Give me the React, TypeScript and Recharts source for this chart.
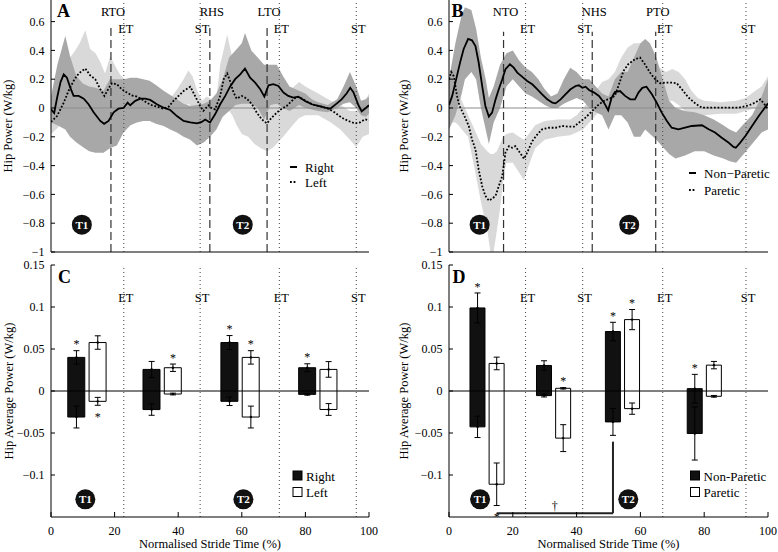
import React from 'react';
import {
  ComposedChart,
  Line,
  Area,
  Bar,
  Cell,
  Scatter,
  ErrorBar,
  XAxis,
  YAxis,
  ReferenceLine,
  ReferenceDot,
} from 'recharts';

// ── data: hip power traces (% stride, W/kg) ─────────────────
const rightA: [number, number][] = [
  [0, -0.01], [1, -0.035], [2, 0.08], [3, 0.18], [4, 0.234], [5, 0.21], [6.1, 0.14], [7.1, 0.084],
  [8.7, 0.084], [10.3, 0.065], [11.8, 0.026], [13.4, -0.03], [15.5, -0.09], [16.7, -0.11], [18.1, -0.09],
  [19.7, -0.03], [21.2, -0.005], [22.8, 0.0], [24.1, 0.037], [24.9, 0.019], [26.5, 0.05], [28.1, 0.065],
  [29.6, 0.065], [31.2, 0.056], [33.3, 0.026], [35.4, 0.002], [37.5, -0.014], [39.6, -0.056], [41.7, -0.09],
  [43.8, -0.1], [45.9, -0.107], [47.4, -0.097], [48.5, -0.08], [50, -0.1], [51.6, -0.044], [53.2, 0.026],
  [54.8, 0.084], [56.3, 0.148], [57.9, 0.2], [59.5, 0.234], [61, 0.274], [62.6, 0.21], [64.2, 0.176],
  [65.8, 0.13], [67.1, 0.079], [68.4, 0.158], [69.9, 0.165], [71.5, 0.153], [73.1, 0.107], [74.6, 0.084],
  [76.2, 0.072], [77.8, 0.079], [79.9, 0.049], [82, 0.026], [84.1, 0.014], [86.2, 0.002], [87.8, -0.005],
  [89.9, 0.032], [91.4, 0.06], [93, 0.102], [94.1, 0.14], [95.1, 0.11], [96.7, 0.019], [97.7, -0.023],
  [99, 0.0], [100, 0.019],
];
const leftA: [number, number][] = [
  [0, -0.097], [1.9, -0.056], [4, 0.037], [5.5, 0.118], [7.1, 0.188], [8.7, 0.24], [10.8, 0.274],
  [12.3, 0.227], [13.9, 0.2], [15.5, 0.13], [16.8, 0.084], [18.1, 0.135], [19.2, 0.172], [20.7, 0.165],
  [22.3, 0.13], [23.9, 0.107], [25.4, 0.088], [27, 0.079], [28.6, 0.06], [30.1, 0.037], [31.7, 0.019],
  [33.3, 0.009], [35.4, -0.005], [37, 0.009], [38.5, 0.049], [40.1, 0.084], [41.7, 0.118], [43.8, 0.148],
  [45.3, 0.084], [46.9, 0.014], [47.9, -0.02], [49.5, 0.019], [50.4, 0.0], [51.6, -0.01], [53.2, 0.084],
  [54.3, 0.2], [55.4, 0.24], [56.3, 0.188], [57.4, 0.107], [58.4, 0.065], [60, 0.084], [61.6, 0.065],
  [63.2, 0.026], [64.7, -0.032], [66.3, -0.079], [67.9, -0.107], [69.4, -0.067], [71, -0.032],
  [72.6, -0.005], [74.1, 0.014], [75.7, 0.049], [77.3, 0.079], [78.9, 0.065], [81, 0.037], [83.1, 0.019],
  [85.2, 0.009], [87.2, -0.005], [89.3, -0.032], [91.4, -0.067], [93.5, -0.09], [95.6, -0.107],
  [97.2, -0.1], [98.7, -0.079], [100, -0.084],
];
// [x, low, high] of the SD bands
const rightBandA: [number, number, number][] = [
  [0, -0.1, 0.08], [2, -0.12, 0.3], [4.5, -0.15, 0.5], [6, -0.2, 0.36], [8, -0.24, 0.22], [10, -0.27, 0.17],
  [12, -0.3, 0.15], [14, -0.31, 0.14], [16.5, -0.31, 0.12], [18.5, -0.28, 0.2], [20.7, -0.26, 0.2],
  [22.8, -0.17, 0.2], [25, -0.12, 0.21], [27, -0.1, 0.21], [29, -0.09, 0.2], [31, -0.09, 0.19],
  [33, -0.11, 0.16], [35.4, -0.125, 0.12], [37.5, -0.15, 0.09], [39.6, -0.17, 0.06], [41.7, -0.2, 0.03],
  [43.8, -0.22, 0.014], [45.9, -0.26, 0.02], [48, -0.24, 0.03], [50, -0.2, 0.05], [52, -0.15, 0.1],
  [54, -0.06, 0.2], [56, -0.02, 0.35], [58, 0.02, 0.4], [60, 0.03, 0.45], [61, 0.03, 0.52], [63, 0.03, 0.4],
  [65, 0.0, 0.35], [67, -0.08, 0.3], [69, 0.02, 0.3], [71, 0.03, 0.3], [73, 0.0, 0.22], [75, -0.02, 0.15],
  [78, 0.02, 0.12], [80, 0.0, 0.1], [82, -0.01, 0.06], [84, -0.02, 0.04], [87, -0.03, 0.02], [90, 0.0, 0.06],
  [92, 0.03, 0.15], [94, 0.04, 0.25], [96, 0.0, 0.15], [97.5, -0.05, 0.05], [99, -0.06, 0.06], [100, -0.04, 0.08],
];
const leftBandA: [number, number, number][] = [
  [0, -0.18, 0.06], [2, -0.14, 0.1], [4, -0.08, 0.25], [6, -0.02, 0.35], [7.6, 0.0, 0.4], [9, 0.02, 0.45],
  [10.8, 0.05, 0.54], [12.3, 0.04, 0.41], [14, 0.0, 0.38], [15.5, -0.03, 0.32], [17, -0.05, 0.24],
  [18.6, 0.0, 0.36], [20, 0.02, 0.3], [21.8, 0.02, 0.23], [24, 0.0, 0.18], [26, -0.01, 0.15], [28, -0.02, 0.12],
  [30, -0.03, 0.1], [32, -0.05, 0.06], [34, -0.06, 0.05], [36, -0.06, 0.04], [38, -0.04, 0.08], [40, -0.02, 0.14],
  [41.7, 0.0, 0.2], [43.2, 0.03, 0.26], [44.5, 0.0, 0.22], [46, -0.06, 0.12], [47.5, -0.1, 0.05],
  [49, -0.08, 0.08], [50.4, -0.1, 0.06], [52, -0.12, 0.06], [53.2, -0.05, 0.3], [55.4, 0.0, 0.51],
  [57, -0.05, 0.35], [58.4, -0.12, 0.3], [60, -0.18, 0.3], [62, -0.2, 0.28], [64, -0.25, 0.2], [66, -0.28, 0.1],
  [68, -0.3, 0.06], [70, -0.27, 0.08], [73, -0.2, 0.1], [76, -0.12, 0.14], [78, -0.07, 0.18], [80, -0.05, 0.15],
  [84, -0.05, 0.1], [88, -0.1, 0.05], [91, -0.15, 0.02], [94, -0.22, -0.02], [96, -0.27, -0.02],
  [98, -0.2, 0.02], [100, -0.18, 0.1],
];

const nonParB: [number, number][] = [
  [0, 0.02], [1, 0.084], [2, 0.176], [3.6, 0.327], [4.6, 0.41], [6, 0.48], [7.2, 0.47], [8.3, 0.43],
  [9.3, 0.316], [10.4, 0.153], [11.4, 0.014], [12.5, -0.06], [13.5, -0.032], [14.6, 0.06], [15.6, 0.13],
  [16.7, 0.2], [17.7, 0.27], [19.1, 0.304], [20.3, 0.28], [21.4, 0.246], [22.9, 0.218], [24.5, 0.188],
  [26.1, 0.165], [27.7, 0.13], [29.2, 0.095], [30.8, 0.06], [32.4, 0.037], [33.4, 0.032], [35, 0.06],
  [36.5, 0.095], [38.1, 0.13], [39.7, 0.153], [40.7, 0.158], [41.8, 0.14], [42.8, 0.148], [43.9, 0.125],
  [45.5, 0.107], [47, 0.084], [48.6, 0.037], [49.9, -0.016], [51, 0.072], [52, 0.11], [53.6, 0.118],
  [55.2, 0.084], [56.8, 0.06], [58.3, 0.06], [59.4, 0.107], [60.6, 0.14], [61.9, 0.148], [63.6, 0.095],
  [65.1, 0.037], [66.7, -0.032], [68.3, -0.09], [69.8, -0.137], [71.9, -0.148], [74, -0.137],
  [76.1, -0.125], [79.3, -0.12], [81.4, -0.148], [83.4, -0.17], [85.5, -0.206], [87.6, -0.24],
  [89.2, -0.27], [89.9, -0.276], [91.3, -0.24], [92.9, -0.195], [95, -0.125], [97.1, -0.056],
  [98.6, -0.01], [100, 0.032],
];
const parB: [number, number][] = [
  [0, 0.2], [0.7, 0.25], [1.5, 0.22], [2.5, 0.084], [3.3, 0.014], [4.6, -0.044], [6.2, -0.125],
  [7.2, -0.218], [8.3, -0.288], [9.3, -0.427], [10.4, -0.543], [11.4, -0.61], [12.5, -0.643], [13.5, -0.63],
  [14.6, -0.61], [15.6, -0.543], [16.7, -0.473], [17.7, -0.31], [18.8, -0.265], [19.8, -0.276],
  [20.8, -0.265], [21.9, -0.3], [23.5, -0.353], [24.5, -0.31], [26.1, -0.23], [27.7, -0.183], [29.2, -0.148],
  [31.3, -0.137], [33.4, -0.137], [35.5, -0.125], [37.6, -0.13], [39.2, -0.13], [40.7, -0.102],
  [42.8, -0.067], [44.9, -0.021], [47, 0.026], [49.1, 0.056], [50, 0.06], [52, 0.084], [53.1, 0.153],
  [54.7, 0.258], [56.2, 0.304], [58.3, 0.339], [59.9, 0.35], [61.4, 0.304], [63, 0.246], [64.6, 0.2],
  [66.2, 0.172], [67.7, 0.176], [69.8, 0.176], [71.4, 0.172], [73, 0.13], [75.1, 0.072], [77.2, 0.032],
  [79.3, 0.002], [82.4, 0.002], [86.6, 0.002], [90.8, 0.002], [94, 0.019], [96, 0.037], [97.6, 0.06],
  [98.7, 0.032], [100, -0.01],
];
const nonParBandB: [number, number, number][] = [
  [0, -0.15, 0.2], [2, -0.05, 0.45], [4, 0.1, 0.65], [5, 0.2, 0.7], [7, 0.25, 0.68], [8.5, 0.2, 0.55],
  [10, 0.0, 0.35], [11.5, -0.15, 0.2], [12.5, -0.25, 0.07], [14, -0.1, 0.15], [16, 0.0, 0.3], [18, 0.15, 0.38],
  [20, 0.2, 0.4], [22, 0.15, 0.33], [24, 0.1, 0.28], [26, 0.08, 0.25], [28, 0.05, 0.2], [30, 0.02, 0.13],
  [32, 0.0, 0.08], [34, 0.0, 0.1], [36, 0.03, 0.2], [38, 0.05, 0.28], [40, 0.07, 0.25], [42, 0.05, 0.2],
  [44, 0.0, 0.2], [46, -0.03, 0.15], [48, -0.05, 0.1], [50, -0.15, 0.08], [52, -0.05, 0.2], [54, -0.05, 0.25],
  [56, -0.1, 0.25], [58, -0.2, 0.35], [60, -0.2, 0.45], [61.5, -0.15, 0.48], [63, -0.18, 0.45],
  [65, -0.22, 0.35], [67, -0.27, 0.2], [69, -0.32, 0.05], [71, -0.35, 0.0], [74, -0.33, -0.02],
  [77, -0.3, -0.03], [80, -0.3, -0.05], [83, -0.33, -0.08], [86, -0.35, -0.12], [88, -0.37, -0.15],
  [90, -0.38, -0.17], [92, -0.33, -0.12], [95, -0.25, -0.05], [98, -0.17, 0.08], [100, -0.15, 0.2],
];
const parBandB: [number, number, number][] = [
  [0, -0.15, 0.15], [1, -0.1, 0.3], [2, -0.1, 0.28], [3, -0.12, 0.1], [4, -0.15, 0.05], [6, -0.2, -0.05],
  [8, -0.42, -0.15], [10, -0.65, -0.25], [12, -0.85, -0.3], [13, -1.0, -0.32], [14, -1.0, -0.32],
  [15, -0.85, -0.3], [16, -0.7, -0.25], [17, -0.5, -0.2], [18, -0.38, -0.18], [20, -0.38, -0.17],
  [22, -0.45, -0.2], [23.5, -0.5, -0.22], [25, -0.4, -0.18], [27, -0.28, -0.12], [30, -0.22, -0.09],
  [34, -0.2, -0.08], [38, -0.19, -0.08], [40, -0.17, -0.05], [42, -0.15, 0.0], [44, -0.1, 0.05],
  [46, -0.05, 0.12], [48, 0.0, 0.18], [50, -0.05, 0.2], [52, -0.05, 0.25], [54, 0.05, 0.35], [56, 0.15, 0.42],
  [58, 0.2, 0.45], [60, 0.2, 0.45], [62, 0.15, 0.42], [64, 0.1, 0.35], [66, 0.05, 0.28], [68, 0.05, 0.25],
  [70, 0.05, 0.27], [72, 0.02, 0.25], [74, -0.02, 0.2], [76, -0.03, 0.12], [78, -0.05, 0.07],
  [80, -0.05, 0.05], [85, -0.04, 0.04], [90, -0.04, 0.05], [93, -0.02, 0.07], [96, 0.0, 0.12],
  [98, -0.02, 0.15], [100, -0.08, 0.22],
];

// ── gait events and phases (% stride) ───────────────────────
const toeHeelA = [{ name: 'RTO', x: 18.85 }, { name: 'RHS', x: 49.95 }, { name: 'LTO', x: 67.95 }];
const phaseLinesA = [{ name: 'ET', x: 22.9 }, { name: 'ST', x: 46.9 }, { name: 'ET', x: 71.8 }, { name: 'ST', x: 96.0 }];
const toeHeelB = [{ name: 'NTO', x: 17.1 }, { name: 'NHS', x: 44.9 }, { name: 'PTO', x: 64.8 }];
const phaseLinesB = [{ name: 'ET', x: 24.0 }, { name: 'ST', x: 41.9 }, { name: 'ET', x: 67.0 }, { name: 'ST', x: 93.1 }];
const badgesA = [{ name: 'T1', x: 9.7 }, { name: 'T2', x: 60.3 }];
const badgesB = [{ name: 'T1', x: 9.6 }, { name: 'T2', x: 56.5 }];
const badgesC = [{ name: 'T1', x: 10.8 }, { name: 'T2', x: 60.5 }];
const badgesD = [{ name: 'T1', x: 9.75 }, { name: 'T2', x: 56.2 }];

// ── average power bars (W/kg): positive / negative parts and SD ──
const windowsC = [11.35, 35.0, 59.5, 83.95];
const rightPos = [0.04, 0.0257, 0.0577, 0.0277];
const rightPosSd = [0.008, 0.0095, 0.0083, 0.0047];
const rightNeg = [-0.031, -0.0221, -0.0123, -0.004];
const rightNegSd = [0.013, 0.0068, 0.005, 0.001];
const rightStar = ['top', null, 'top', 'top'];
const leftPos = [0.0577, 0.0277, 0.04, 0.0257];
const leftPosSd = [0.008, 0.0044, 0.008, 0.0093];
const leftNeg = [-0.0123, -0.0036, -0.031, -0.022];
const leftNegSd = [0.0047, 0.001, 0.013, 0.007];
const leftStar = ['bottom', 'top', 'top', null];

const windowsD = [11.95, 32.8, 54.4, 80.05];
const nonParPos = [0.0989, 0.0304, 0.0708, 0.0028];
const nonParPosSd = [0.0178, 0.0056, 0.011, 0.017];
const nonParNeg = [-0.0427, -0.0055, -0.0368, -0.0506];
const nonParNegSd = [0.0127, 0.0016, 0.016, 0.0316];
const nonParStar = ['top', null, 'top', 'top'];
const parPos = [0.0328, 0.0032, 0.085, 0.0308];
const parPosSd = [0.0075, 0.0008, 0.012, 0.0044];
const parNeg = [-0.111, -0.0561, -0.021, -0.0063];
const parNegSd = [0.0253, 0.016, 0.0067, 0.001];
const parStar = ['bottom', 'top', 'top', null];

const strideTicks = [0, 20, 40, 60, 80, 100];
const powerTicks = [-1, -0.8, -0.6, -0.4, -0.2, 0, 0.2, 0.4, 0.6];
const avgTicks = [-0.1, -0.05, 0, 0.05, 0.1, 0.15];

const SERIF = "'Liberation Serif', 'Times New Roman', serif";
const DARK_BAND = '#a8a8a8';
const LIGHT_BAND = '#d9d9d9';
const tickStyle = { fill: '#000', fontSize: 12, fontFamily: SERIF };

const fmt = (v: number) => {
  const r = Math.round(v * 100) / 100;
  return r < 0 ? `\u2212${Math.abs(r)}` : `${r}`;
};
const pts = (a: [number, number][]) => a.map(([x, y]) => ({ x, y }));
const bands = (a: [number, number, number][]) => a.map(([x, lo, hi]) => ({ x, band: [lo, hi] }));

// bar rows, error bar anchors and star positions for one panel
function buildBars(windows: number[], off: number, sides: any[]) {
  const rows: any[] = [];
  const errs: any[] = [];
  const stars: any[] = [];
  windows.forEach((c, i) => {
    sides.forEach((s, k) => {
      const x = c + (k === 0 ? -off : off);
      rows.push({ x, range: [s.neg[i], s.pos[i]], fill: s.fill });
      errs.push({ x, y: s.pos[i], err: s.posSd[i] });
      errs.push({ x, y: s.neg[i], err: s.negSd[i] });
      if (s.star[i] === 'top') stars.push({ x, y: s.pos[i] + s.posSd[i] + 0.0105 });
      if (s.star[i] === 'bottom') stars.push({ x, y: s.neg[i] - s.negSd[i] - 0.0105 });
    });
  });
  return { rows, errs, stars };
}

const barsC = buildBars(windowsC, 3.35, [
  { pos: rightPos, posSd: rightPosSd, neg: rightNeg, negSd: rightNegSd, star: rightStar, fill: '#111' },
  { pos: leftPos, posSd: leftPosSd, neg: leftNeg, negSd: leftNegSd, star: leftStar, fill: '#fff' },
]);
const barsD = buildBars(windowsD, 3.0, [
  { pos: nonParPos, posSd: nonParPosSd, neg: nonParNeg, negSd: nonParNegSd, star: nonParStar, fill: '#111' },
  { pos: parPos, posSd: parPosSd, neg: parNeg, negSd: parNegSd, star: parStar, fill: '#fff' },
]);

// ── small render helpers ─────────────────────────────────────
const yTitle = (text: string, x: number) => (p: any) => {
  const vb = p.viewBox || { y: 0, height: 252 };
  const cy = vb.y + vb.height / 2;
  return (
    <text x={x} y={cy} transform={`rotate(-90 ${x} ${cy})`} textAnchor="middle" dominantBaseline="central"
      fontSize={12.5} fontFamily={SERIF} fill="#000">
      {text}
    </text>
  );
};
const xTitle = (p: any) => {
  const vb = p.viewBox || { x: 51, y: 262, width: 318 };
  return (
    <text x={vb.x + vb.width / 2} y={vb.y + 31} textAnchor="middle" fontSize={12.5} fontFamily={SERIF} fill="#000">
      Normalised Stride Time (%)
    </text>
  );
};
const eventLabel = (text: string, y: number) => (p: any) => {
  const vb = p.viewBox || { x: 0 };
  return (
    <text x={vb.x + 2} y={y} textAnchor="middle" fontSize={12.5} fontFamily={SERIF} fill="#000">
      {text}
    </text>
  );
};
const badge = (text: string) => (p: any) => (
  <g>
    <circle cx={p.cx} cy={p.cy} r={10} fill="#111" />
    <text x={p.cx} y={p.cy + 4} textAnchor="middle" fontSize={11} fontWeight="bold" fontFamily={SERIF} fill="#fff">
      {text}
    </text>
  </g>
);
const glyph = (ch: string, dy: number, size: number) => (p: any) => (
  <text x={p.cx} y={p.cy + dy} textAnchor="middle" fontSize={size} fontFamily={SERIF} fill="#000" stroke="none">
    {ch}
  </text>
);
const errDot = (p: any) => <circle cx={p.cx} cy={p.cy} r={1.2} fill="#000" />;

// ── upper panels: hip power over the stride ─────────────────
function PowerPanel({ left, width, axisW, right, solid, dotted, darkBand, lightBand, events, phases, badges, dashTop, titleX }: any) {
  return (
    <div style={{ position: 'absolute', left, top: 0 }}>
      <ComposedChart width={width} height={262} margin={{ top: 0, right, bottom: 9, left: 0 }} style={{ fontFamily: SERIF }}>
        <XAxis type="number" dataKey="x" domain={[0, 100]} ticks={strideTicks} tick={false} tickSize={-5}
          height={1} stroke="#000" allowDataOverflow />
        <YAxis type="number" domain={[-1, 0.75]} ticks={powerTicks} width={axisW} tickSize={-4} tickMargin={10.4}
          tickFormatter={fmt} tick={tickStyle} stroke="#000"
          allowDataOverflow label={yTitle('Hip Power (W/kg)', titleX)} />
        <Area data={bands(lightBand)} dataKey="band" type="linear" stroke="none" fill={LIGHT_BAND} fillOpacity={1}
          activeDot={false} isAnimationActive={false} />
        <Area data={bands(darkBand)} dataKey="band" type="linear" stroke="none" fill={DARK_BAND} fillOpacity={1}
          activeDot={false} isAnimationActive={false} />
        <ReferenceLine y={0} stroke="#8c8c8c" strokeWidth={1} />
        {phases.map((p: any, i: number) => (
          <ReferenceLine key={'p' + i} x={p.x} stroke="#444" strokeDasharray="1 3" label={eventLabel(p.name, 32.5)} />
        ))}
        {events.map((e: any, i: number) => (
          <ReferenceLine key={'e' + i} segment={[{ x: e.x, y: -1 }, { x: e.x, y: dashTop }]} stroke="#333"
            strokeWidth={1.2} strokeDasharray="8 4" label={eventLabel(e.name, 15.7)} />
        ))}
        <Line data={pts(solid)} dataKey="y" type="linear" stroke="#000" strokeWidth={1.8} dot={false}
          activeDot={false} isAnimationActive={false} />
        <Line data={pts(dotted)} dataKey="y" type="linear" stroke="#000" strokeWidth={1.8} strokeDasharray="1.8 1.8"
          dot={false} activeDot={false} isAnimationActive={false} />
        {badges.map((b: any) => (
          <ReferenceDot key={b.name} x={b.x} y={-0.81} shape={badge(b.name)} />
        ))}
      </ComposedChart>
    </div>
  );
}

// ── lower panels: average power per phase ───────────────────
function BarPanel({ left, width, axisW, right, bars, barSize, phases, badges, titleX, children }: any) {
  return (
    <div style={{ position: 'absolute', left, top: 255 }}>
      <ComposedChart width={width} height={297} data={bars.rows} margin={{ top: 10, right, bottom: 0, left: 0 }}
        style={{ fontFamily: SERIF }}>
        <XAxis type="number" dataKey="x" domain={[0, 100]} ticks={strideTicks} tickSize={-5} tickMargin={14}
          height={35} stroke="#000" tick={tickStyle} label={xTitle} allowDataOverflow />
        <YAxis type="number" domain={[-0.15, 0.15]} ticks={avgTicks} width={axisW} tickSize={-4} tickMargin={10.4}
          tickFormatter={fmt} tick={tickStyle} stroke="#000"
          allowDataOverflow label={yTitle('Hip Average Power (W/kg)', titleX)} />
        {phases.map((p: any, i: number) => (
          <ReferenceLine key={'p' + i} x={p.x} stroke="#444" strokeDasharray="1 3" label={eventLabel(p.name, 46.7)} />
        ))}
        <Bar dataKey="range" barSize={barSize} isAnimationActive={false}>
          {bars.rows.map((r: any, i: number) => (
            <Cell key={i} fill={r.fill} stroke="#000" strokeWidth={1} />
          ))}
        </Bar>
        <ReferenceLine y={0} stroke="#000" strokeWidth={1} />
        <Scatter data={bars.errs} dataKey="y" shape={errDot} isAnimationActive={false}>
          <ErrorBar dataKey="err" direction="y" width={3} stroke="#000" strokeWidth={1} />
        </Scatter>
        <Scatter data={bars.stars} dataKey="y" shape={glyph('*', 6.5, 12)} isAnimationActive={false} />
        {badges.map((b: any) => (
          <ReferenceDot key={b.name} x={b.x} y={-0.129} shape={badge(b.name)} />
        ))}
        {children}
      </ComposedChart>
    </div>
  );
}

// paretic T1 vs non-paretic T2 comparison bracket in D
const bracketY = -0.1455;
const bracketFrom = windowsD[0] + 3.0;
const bracketTo = windowsD[2] - 3.0;
const bracketTop = nonParNeg[2] - nonParNegSd[2] - 0.0075;

// ── legends and panel letters ────────────────────────────────
const legendLines = [
  { x: 290, y: 167, dash: undefined, text: 'Right' },
  { x: 290, y: 182, dash: '1.8 1.8', text: 'Left' },
  { x: 689, y: 173, dash: undefined, text: 'Non\u2212Paretic' },
  { x: 689, y: 190, dash: '1.8 1.8', text: 'Paretic' },
];
const legendBoxes = [
  { x: 293, y: 471, fill: '#111', text: 'Right' },
  { x: 293, y: 487.5, fill: '#fff', text: 'Left' },
  { x: 690.5, y: 471, fill: '#111', text: 'Non-Paretic' },
  { x: 690.5, y: 487.5, fill: '#fff', text: 'Paretic' },
];
const panelLetters = [
  { t: 'A', x: 57, y: 17 },
  { t: 'B', x: 451.5, y: 17 },
  { t: 'C', x: 58, y: 283 },
  { t: 'D', x: 452.5, y: 283 },
];

function Overlay() {
  return (
    <svg width={778} height={552} style={{ position: 'absolute', left: 0, top: 0, pointerEvents: 'none' }}
      fontFamily={SERIF}>
      {panelLetters.map((l) => (
        <text key={l.t} x={l.x} y={l.y} fontSize={18} fontWeight="bold" fill="#000">{l.t}</text>
      ))}
      {legendLines.map((l) => (
        <g key={l.text + l.y}>
          <line x1={l.x} x2={l.x + 7} y1={l.y} y2={l.y} stroke="#000" strokeWidth={2} strokeDasharray={l.dash} />
          <text x={l.x + 15} y={l.y + 4.5} fontSize={13} fill="#000">{l.text}</text>
        </g>
      ))}
      {legendBoxes.map((l) => (
        <g key={l.text + l.y}>
          <rect x={l.x} y={l.y} width={9} height={9} fill={l.fill} stroke="#000" strokeWidth={1} />
          <text x={l.x + 13} y={l.y + 9.5} fontSize={13} fill="#000">{l.text}</text>
        </g>
      ))}
    </svg>
  );
}

export default function App() {
  return (
    <div style={{ position: 'absolute', left: 0, top: 0, width: 778, height: 552, background: '#fff',
      overflow: 'hidden', fontFamily: SERIF }}>
      <PowerPanel left={0} width={380} axisW={51} right={11} solid={rightA} dotted={leftA} darkBand={rightBandA}
        lightBand={leftBandA} events={toeHeelA} phases={phaseLinesA} badges={badgesA} dashTop={0.58} titleX={8} />
      <PowerPanel left={390} width={388} axisW={59} right={10} solid={nonParB} dotted={parB} darkBand={nonParBandB}
        lightBand={parBandB} events={toeHeelB} phases={phaseLinesB} badges={badgesB} dashTop={0.53} titleX={13.5} />
      <BarPanel left={0} width={380} axisW={51} right={11} bars={barsC} barSize={17} phases={phaseLinesA}
        badges={badgesC} titleX={8.5} />
      <BarPanel left={390} width={388} axisW={59} right={10} bars={barsD} barSize={15} phases={phaseLinesB}
        badges={badgesD} titleX={13.5}>
        <ReferenceLine segment={[{ x: bracketFrom, y: bracketY }, { x: bracketTo, y: bracketY }]} stroke="#222"
          strokeWidth={2} />
        <ReferenceLine segment={[{ x: bracketTo, y: bracketY }, { x: bracketTo, y: bracketTop }]} stroke="#222"
          strokeWidth={2} />
        <ReferenceDot x={(bracketFrom + bracketTo) / 2} y={bracketY + 0.008} shape={glyph('\u2020', 3.6, 12)} />
      </BarPanel>
      <Overlay />
    </div>
  );
}
